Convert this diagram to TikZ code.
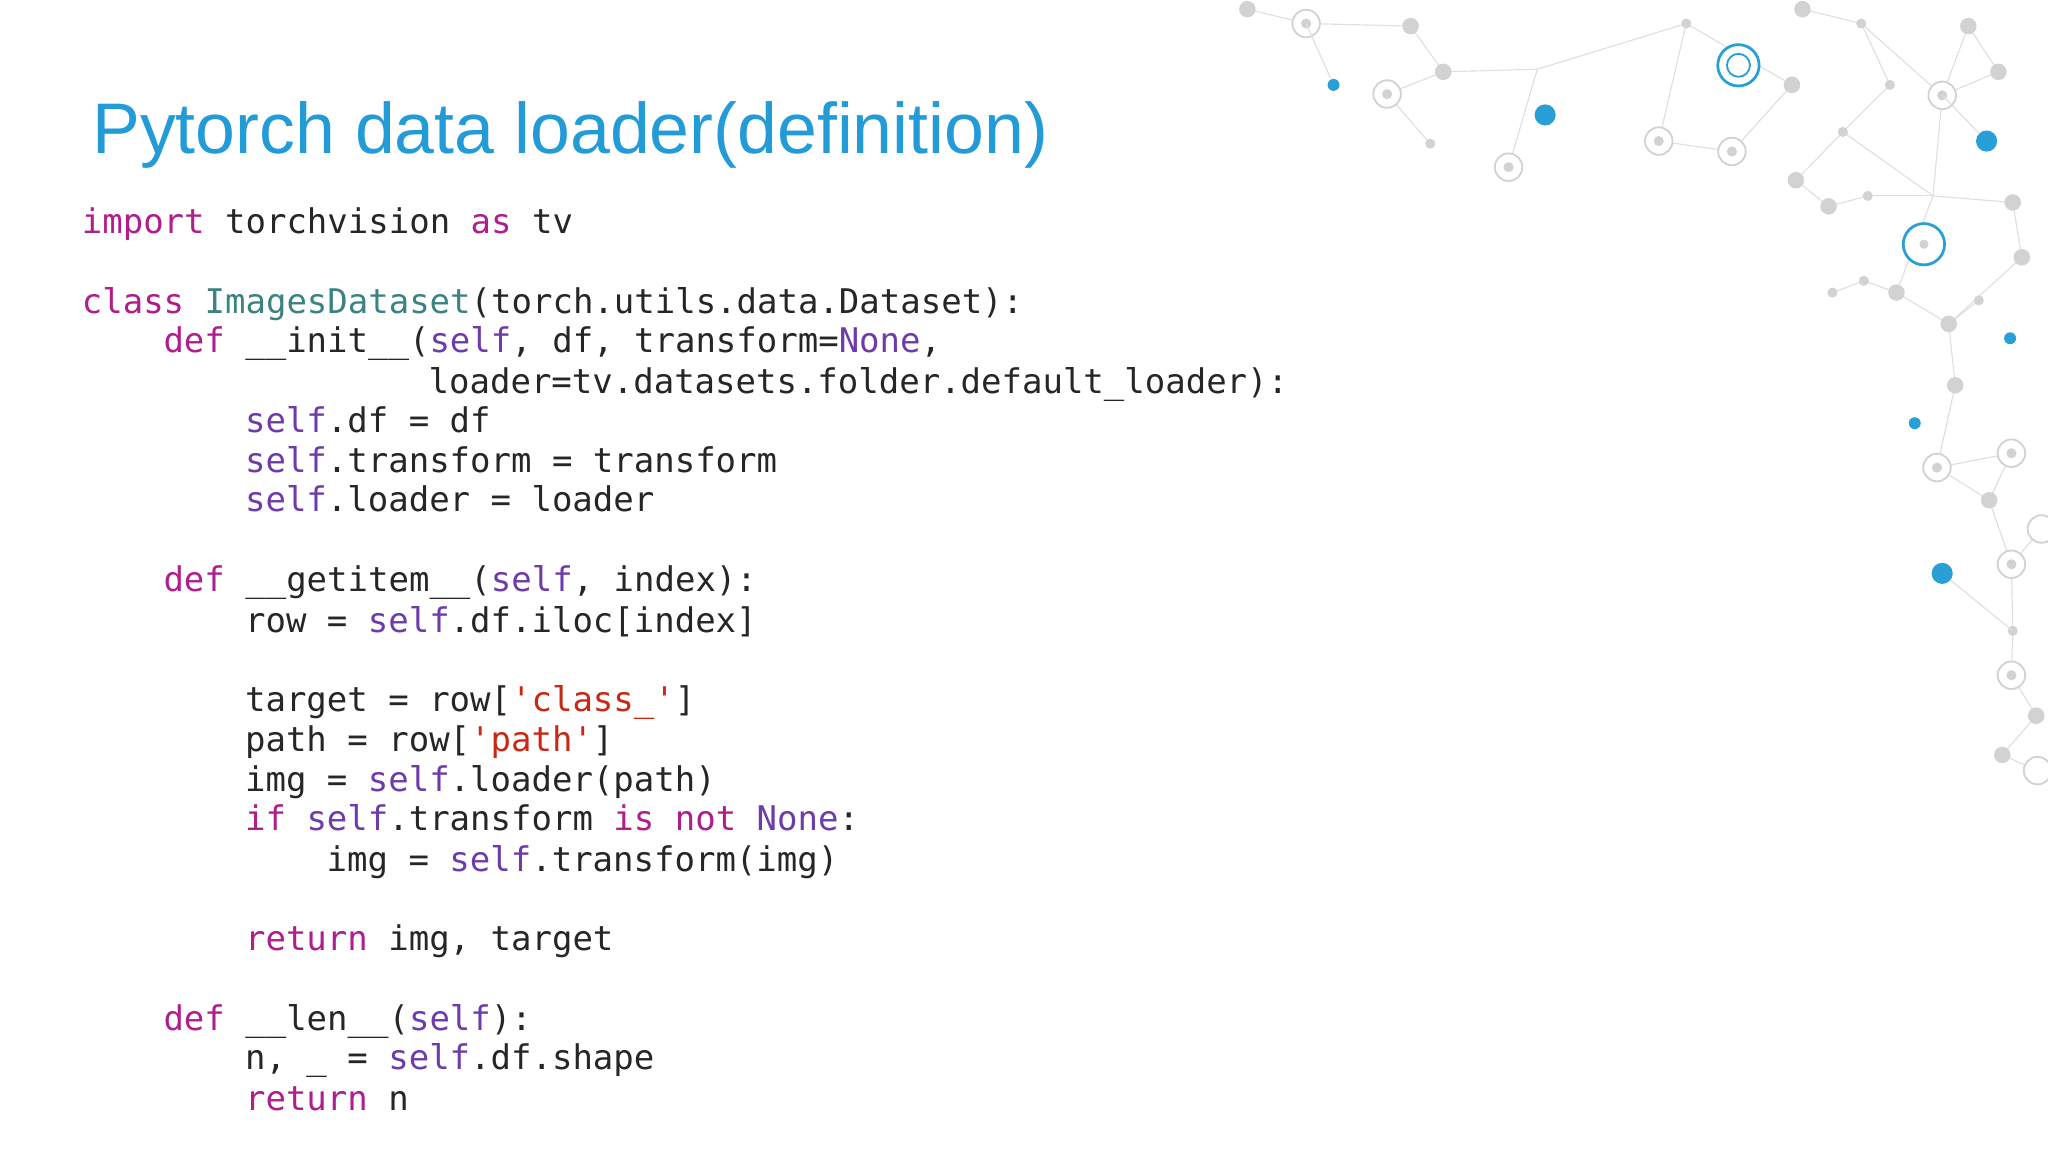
\documentclass[tikz,border=0pt]{standalone}
\usepackage{fontspec}
\setmainfont{Liberation Sans}
\newfontfamily\codefont{DejaVu Sans Mono}
\definecolor{ttl}{RGB}{35,155,215}
\definecolor{kwc}{RGB}{175,30,140}
\definecolor{slc}{RGB}{110,60,170}
\definecolor{cnc}{RGB}{60,130,130}
\definecolor{stc}{RGB}{200,40,20}
\definecolor{netg}{RGB}{210,210,210}
\definecolor{netb}{RGB}{40,160,215}
\newcommand{\kw}[1]{\textcolor{kwc}{#1}}
\newcommand{\slf}[1]{\textcolor{slc}{#1}}
\newcommand{\cnm}[1]{\textcolor{cnc}{#1}}
\newcommand{\strg}[1]{\textcolor{stc}{#1}}
\begin{document}
\begin{tikzpicture}[x=0.01cm,y=-0.01cm,
  code/.style={anchor=base west,inner sep=0pt,font=\codefont\fontsize{7.4}{8}\selectfont,text=black!85},
  gdot/.style={circle,fill=netg,inner sep=0pt,minimum size=#1},
  bdot/.style={circle,fill=netb,inner sep=0pt,minimum size=#1},
  ring/.style={circle,draw=netg,fill=white,line width=0.4pt,inner sep=0pt,minimum size=#1},
  bring/.style={circle,draw=netb,fill=white,line width=0.6pt,inner sep=0pt,minimum size=#1},
  edge/.style={draw=netg!70,line width=0.25pt}]
\useasboundingbox (0,0) rectangle (1568,882);
% network decoration
\foreach \n/\x/\y in {a/955/7,b/1000/18,c/1080/20,d/1105/55,e/1177/53,f/1291/18,g/1372/65,h/1380/7,i/1425/18,j/1447/65,k/1487/73,l/1507/20,m/1530/55,n/1062/72,o/1095/110,p/1155/128,q/1270/108,r/1326/116,s/1375/138,t/1400/158,u/1411/101,v/1430/150,w/1480/150,x/1541/155,y/1548/197,z/1452/224,A/1427/215,B/1403/224,C/1492/248,D/1515/230,E/1497/295,F/1483/358,G/1540/347,H/1523/383,I/1540/432,J/1563/405,K/1541/483,L/1540/517,M/1559/548,N/1533/578,O/1560/590}
  \coordinate (N\n) at (\x,\y);
\foreach \u/\v in {a/b,b/c,c/d,d/n,n/o,d/e,e/p,e/f,f/q,q/r,f/g,g/r,h/i,i/j,i/k,k/l,l/m,k/m,j/u,u/s,s/t,t/v,v/w,w/x,x/y,w/z,z/A,A/B,z/C,C/D,C/E,E/F,F/G,G/H,F/H,H/I,I/J,I/K,K/L,L/M,M/N,N/O,y/C,u/w,k/w}
  \path[edge] (N\u) -- (N\v);
\foreach \n in {a,c,d,g,h,l,m,s,t,x,y,z,C,E,H,M,N} \node[gdot=3.6pt] at (N\n) {};
\foreach \n in {b,f,i,j,o,u,v,A,B,D,K,L} \node[gdot=2.2pt] at (N\n) {};
\foreach \n in {b,n,p,q,r,k,F,G,I,L,J,O} \node[ring=6pt] at (N\n) {};
\foreach \n in {b,n,p,q,r,k,F,G,I,L} \node[gdot=2.2pt] at (N\n) {};
\node[bdot=2.6pt] (B1) at (1021,65) {};
\node[bdot=4.6pt] (B2) at (1183,88) {};
\node[bdot=4.6pt] (B3) at (1521,108) {};
\node[bdot=2.6pt] (B4) at (1539,259) {};
\node[bdot=2.6pt] (B5) at (1466,324) {};
\node[bdot=4.6pt] (B6) at (1487,439) {};
\node[bring=9pt] (R1) at (1331,50) {};
\node[ring=5pt,draw=netb] at (1331,50) {};
\node[bring=9pt] (R2) at (1473,187) {};
\node[gdot=2pt] at (1473,187) {};
\path[edge] (B1) -- (Nb) (B3) -- (Nk) (B6) -- (NK);
% title
\node[anchor=west,inner sep=0pt,text=ttl,font=\fontsize{15.6}{18}\selectfont] (title) at (70,103) {Pytorch data loader(definition)};
% code
\def\cw{15.62}
\node[code] (l1) at (62,179) {\kw{import} torchvision \kw{as} tv};
\node[code] (l2) at (62,240) {\kw{class} \cnm{ImagesDataset}(torch.utils.data.Dataset):};
\node[code] (l3) at (62+4*\cw,270) {\kw{def} \_\_init\_\_(\slf{self}, df, transform=\slf{None},};
\node[code] (l4) at (62+17*\cw,301) {loader=tv.datasets.folder.default\_loader):};
\node[code] (l5) at (62+8*\cw,331) {\slf{self}.df = df};
\node[code] (l6) at (62+8*\cw,362) {\slf{self}.transform = transform};
\node[code] (l7) at (62+8*\cw,392) {\slf{self}.loader = loader};
\node[code] (l8) at (62+4*\cw,453) {\kw{def} \_\_getitem\_\_(\slf{self}, index):};
\node[code] (l9) at (62+8*\cw,484) {row = \slf{self}.df.iloc[index]};
\node[code] (l10) at (62+8*\cw,545) {target = row[\strg{'class\_'}]};
\node[code] (l11) at (62+8*\cw,575) {path = row[\strg{'path'}]};
\node[code] (l12) at (62+8*\cw,606) {img = \slf{self}.loader(path)};
\node[code] (l13) at (62+8*\cw,636) {\kw{if} \slf{self}.transform \kw{is} \kw{not} \slf{None}:};
\node[code] (l14) at (62+12*\cw,667) {img = \slf{self}.transform(img)};
\node[code] (l15) at (62+8*\cw,728) {\kw{return} img, target};
\node[code] (l16) at (62+4*\cw,789) {\kw{def} \_\_len\_\_(\slf{self}):};
\node[code] (l17) at (62+8*\cw,819) {n, \_ = \slf{self}.df.shape};
\node[code] (l18) at (62+8*\cw,850) {\kw{return} n};
\end{tikzpicture}
\end{document}
